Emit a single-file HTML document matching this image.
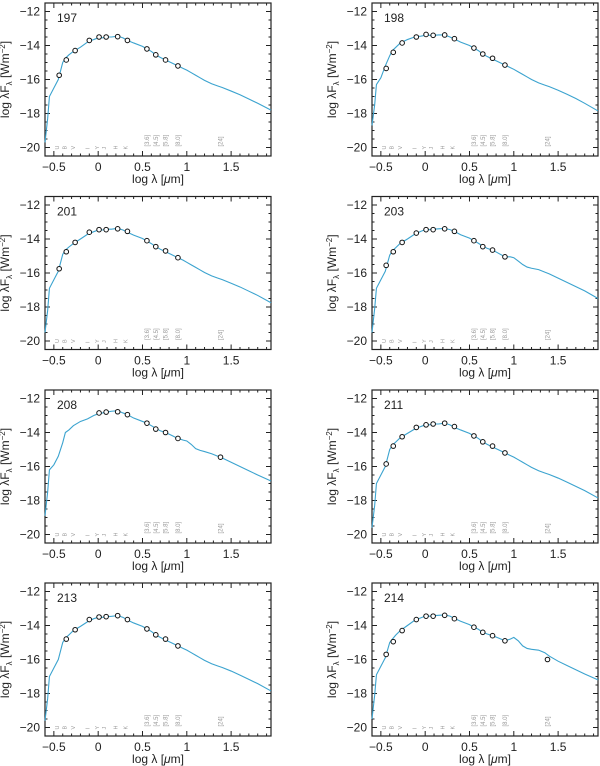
<!DOCTYPE html>
<html><head><meta charset="utf-8"><style>
html,body{margin:0;padding:0;background:#fff}
svg{display:block;font-family:"Liberation Sans",sans-serif}
</style></head><body>
<svg id="fig" width="600" height="766" viewBox="0 0 600 766" xmlns="http://www.w3.org/2000/svg"></svg>
<script>
const modelX=[-0.6,-0.57,-0.55,-0.5,-0.45,-0.4,-0.37,-0.33,-0.28,-0.2,-0.12,-0.05,0,0.05,0.1,0.15,0.22,0.28,0.33,0.4,0.5,0.55,0.6,0.65,0.7,0.76,0.82,0.9,0.96,1.0,1.05,1.1,1.15,1.2,1.28,1.35,1.4,1.5,1.6,1.7,1.8,1.95];
const model197=[-19.7,-18.3,-17.0,-16.5,-16.0,-15.0,-14.75,-14.55,-14.35,-14.1,-13.8,-13.65,-13.55,-13.55,-13.5,-13.5,-13.45,-13.55,-13.7,-13.85,-14.05,-14.2,-14.35,-14.55,-14.7,-14.85,-15.0,-15.2,-15.35,-15.45,-15.6,-15.75,-15.9,-16.05,-16.25,-16.38,-16.47,-16.68,-16.9,-17.15,-17.4,-17.8];
const model198=[-18.7,-17.5,-16.3,-15.9,-15.2,-14.6,-14.3,-14.1,-13.85,-13.65,-13.5,-13.45,-13.4,-13.4,-13.4,-13.38,-13.38,-13.5,-13.62,-13.8,-14.0,-14.15,-14.3,-14.5,-14.65,-14.8,-14.95,-15.15,-15.3,-15.4,-15.55,-15.7,-15.85,-16.0,-16.2,-16.33,-16.42,-16.63,-16.87,-17.12,-17.4,-17.85];
const model201=[-19.5,-18.2,-16.9,-16.4,-15.9,-14.9,-14.65,-14.47,-14.27,-14.0,-13.72,-13.57,-13.47,-13.47,-13.42,-13.42,-13.37,-13.47,-13.6,-13.77,-13.97,-14.12,-14.27,-14.45,-14.6,-14.75,-14.9,-15.1,-15.25,-15.37,-15.52,-15.67,-15.82,-15.97,-16.17,-16.3,-16.39,-16.6,-16.82,-17.07,-17.32,-17.75];
const model203=[-19.5,-18.1,-16.9,-16.4,-15.9,-14.95,-14.7,-14.5,-14.25,-14.0,-13.72,-13.55,-13.45,-13.45,-13.42,-13.4,-13.38,-13.45,-13.55,-13.75,-13.95,-14.1,-14.25,-14.42,-14.55,-14.65,-14.82,-15.05,-15.05,-15.1,-15.3,-15.5,-15.65,-15.72,-15.8,-15.95,-16.05,-16.3,-16.55,-16.8,-17.05,-17.5];
const model208=[-18.9,-17.5,-16.2,-15.9,-15.4,-14.6,-14.0,-13.85,-13.6,-13.35,-13.2,-13.0,-12.9,-12.85,-12.8,-12.75,-12.72,-12.85,-12.95,-13.15,-13.35,-13.45,-13.6,-13.75,-13.9,-14.0,-14.15,-14.35,-14.45,-14.5,-14.7,-14.95,-15.05,-15.12,-15.25,-15.4,-15.5,-15.75,-16.0,-16.25,-16.5,-16.85];
const model211=[-19.6,-18.3,-17.0,-16.5,-16.0,-15.0,-14.75,-14.55,-14.3,-14.05,-13.8,-13.65,-13.55,-13.55,-13.5,-13.5,-13.45,-13.55,-13.7,-13.85,-14.05,-14.2,-14.35,-14.55,-14.7,-14.85,-15.0,-15.2,-15.35,-15.45,-15.6,-15.75,-15.9,-16.05,-16.25,-16.38,-16.47,-16.68,-16.92,-17.17,-17.42,-17.85];
const model213=[-19.6,-18.3,-17.0,-16.5,-16.0,-15.0,-14.75,-14.55,-14.3,-14.05,-13.78,-13.6,-13.52,-13.52,-13.48,-13.46,-13.42,-13.52,-13.68,-13.85,-14.05,-14.2,-14.35,-14.55,-14.7,-14.85,-15.0,-15.2,-15.35,-15.45,-15.6,-15.75,-15.9,-16.05,-16.25,-16.38,-16.47,-16.68,-16.92,-17.17,-17.42,-17.85];
const model214=[-19.5,-18.1,-16.9,-16.4,-15.9,-15.0,-14.8,-14.55,-14.3,-14.0,-13.7,-13.55,-13.45,-13.45,-13.42,-13.4,-13.38,-13.45,-13.58,-13.75,-13.95,-14.1,-14.22,-14.4,-14.5,-14.6,-14.72,-14.9,-14.8,-14.7,-14.9,-15.2,-15.35,-15.4,-15.45,-15.6,-15.8,-16.1,-16.35,-16.6,-16.85,-17.2];
const bandX=[-0.44,-0.36,-0.26,-0.1,0.01,0.09,0.22,0.33,0.55,0.65,0.76,0.9];
const bandX24=[-0.44,-0.36,-0.26,-0.1,0.01,0.09,0.22,0.33,0.55,0.65,0.76,0.9,1.38];
const bandX208=[0.01,0.09,0.22,0.33,0.55,0.65,0.76,0.9,1.38];
const bandX213=[-0.36,-0.26,-0.1,0.01,0.09,0.22,0.33,0.55,0.65,0.76,0.9];
const obs197=[-15.75,-14.85,-14.3,-13.7,-13.5,-13.5,-13.48,-13.7,-14.2,-14.55,-14.85,-15.2];
const obs198=[-15.35,-14.4,-13.85,-13.5,-13.35,-13.4,-13.38,-13.6,-14.15,-14.5,-14.75,-15.15];
const obs201=[-15.75,-14.75,-14.2,-13.6,-13.45,-13.45,-13.4,-13.55,-14.1,-14.45,-14.7,-15.1];
const obs203=[-15.55,-14.75,-14.2,-13.65,-13.45,-13.45,-13.4,-13.55,-14.1,-14.45,-14.65,-15.05];
const obs208=[-12.85,-12.8,-12.78,-12.95,-13.45,-13.8,-14.0,-14.35,-15.45];
const obs211=[-15.85,-14.8,-14.25,-13.7,-13.55,-13.5,-13.45,-13.65,-14.2,-14.55,-14.8,-15.2];
const obs213=[-14.8,-14.25,-13.65,-13.5,-13.48,-13.42,-13.65,-14.2,-14.55,-14.8,-15.2];
const obs214=[-15.7,-14.95,-14.3,-13.65,-13.45,-13.45,-13.4,-13.6,-14.1,-14.4,-14.6,-14.9,-16.0];
const xTicks=[-0.5,0,0.5,1,1.5];
const xTickLabels=["\u22120.5","0","0.5","1","1.5"];
const yTicks=[-12,-14,-16,-18,-20];
const yTickLabels=["\u221212","\u221214","\u221216","\u221218","\u221220"];
const filterX=[-0.44,-0.36,-0.26,-0.1,0.01,0.09,0.22,0.33];
const filterNames=["U","B","V","I","Y","J","H","K"];
const iracX=[0.55,0.65,0.76,0.9,1.38];
const iracNames=["[3.6]","[4.5]","[5.8]","[8.0]","[24]"];

const panels=[
 {id:"197",col:0,row:0,my:model197,px:bandX,py:obs197},
 {id:"198",col:1,row:0,my:model198,px:bandX,py:obs198},
 {id:"201",col:0,row:1,my:model201,px:bandX,py:obs201},
 {id:"203",col:1,row:1,my:model203,px:bandX,py:obs203},
 {id:"208",col:0,row:2,my:model208,px:bandX208,py:obs208},
 {id:"211",col:1,row:2,my:model211,px:bandX,py:obs211},
 {id:"213",col:0,row:3,my:model213,px:bandX213,py:obs213},
 {id:"214",col:1,row:3,my:model214,px:bandX24,py:obs214}
];
const NS="http://www.w3.org/2000/svg";
const svg=document.getElementById("fig");
function mk(tag,attrs,parent){const e=document.createElementNS(NS,tag);for(const k in attrs)e.setAttribute(k,attrs[k]);parent.appendChild(e);return e;}
const XMIN=-0.6,XMAX=1.95,YMIN=-20.5,YMAX=-11.5,W=226,H=153;
const lefts=[45,372],tops=[3,196.5,390,583];
panels.forEach(p=>{
 const L=lefts[p.col],T=tops[p.row];
 const sx=v=>L+(v-XMIN)/(XMAX-XMIN)*W;
 const sy=v=>T+(YMAX-v)/(YMAX-YMIN)*H;
 const g=mk("g",{},svg);
 
 
 const fr=mk("rect",{x:L,y:T,width:W,height:H,fill:"none",stroke:"#222","stroke-width":1.2},g);
 
 
 let d="";
 for(let i=-6;i<=19;i++){const v=i/10;if(v<XMIN-1e-9||v>XMAX)continue;const x=sx(v).toFixed(2);const len=(Math.abs(v*2-Math.round(v*2))<1e-6)?5:2.5;d+=`M${x},${T+H}v${-len}M${x},${T}v${len}`;}
 for(let i=-41;i<=-23;i++){const v=i/2;if(v<YMIN||v>YMAX)continue;const y=sy(v).toFixed(2);const len=(i%4===0)?5:2.5;d+=`M${L},${y}h${len}M${L+W},${y}h${-len}`;}
 const tk=mk("path",{d:d,stroke:"#222","stroke-width":1,fill:"none"},g);
 
 
 xTicks.forEach((v,i)=>{const t=mk("text",{x:sx(v),y:T+H+15,"font-size":12,"text-anchor":"middle",fill:"#222"},g);t.textContent=xTickLabels[i];
  
  });
 yTicks.forEach((v,i)=>{const t=mk("text",{x:L-5,y:sy(v)+4,"font-size":12,"text-anchor":"end",fill:"#222"},g);t.textContent=yTickLabels[i];
  
  });
 const xt=mk("text",{x:L+W/2,y:T+H+27,"font-size":12,"text-anchor":"middle",fill:"#222"},g);
 xt.innerHTML='log &#955; [<tspan font-style="italic">&#956;</tspan>m]';
 
 
 const yx=L-36,yy=T+H/2;
 const yt=mk("text",{x:yx,y:yy,"font-size":12,"text-anchor":"middle",fill:"#222",transform:`rotate(-90 ${yx} ${yy})`},g);
 yt.innerHTML='log &#955;F<tspan font-size="8" dy="3">&#955;</tspan><tspan dy="-3"> [Wm</tspan><tspan font-size="8" dy="-4">&#8722;2</tspan><tspan dy="4">]</tspan>';
 
 
 const id=mk("text",{x:L+12,y:T+19,"font-size":12,fill:"#222"},g);id.textContent=p.id;
 
 
 filterX.forEach((v,i)=>{const x=sx(v),y=sy(-20)+2;const t=mk("text",{x:x,y:y,"font-size":5.5,fill:"#999",transform:`rotate(-90 ${x} ${y})`},g);t.textContent=filterNames[i];
  
  });
 iracX.forEach((v,i)=>{const x=sx(v)+2,y=sy(-20)-1;const t=mk("text",{x:x,y:y,"font-size":6,fill:"#999",transform:`rotate(-90 ${x} ${y})`},g);t.textContent=iracNames[i];
  
  });
 const pts=modelX.map((v,i)=>sx(v).toFixed(2)+","+sy(p.my[i]).toFixed(2)).join(" ");
 const ln=mk("polyline",{points:pts,fill:"none",stroke:"#3ba3cf","stroke-width":1.1},g);
 
 
 p.px.forEach((v,i)=>{const c=mk("circle",{cx:sx(v),cy:sy(p.py[i]),r:2.3,fill:"#fff",stroke:"#111","stroke-width":1},g);
  
  });
});
</script>
</body></html>
